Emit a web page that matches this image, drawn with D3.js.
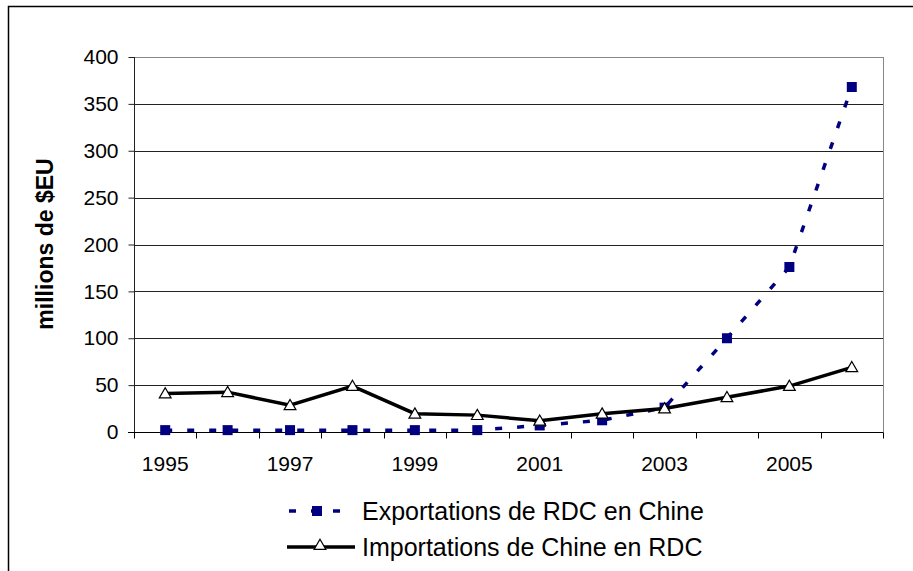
<!DOCTYPE html>
<html><head><meta charset="utf-8">
<script src="https://cdn.jsdelivr.net/npm/d3@7"></script>
<style>body{margin:0;background:#fff;}svg{display:block;font-family:"Liberation Sans",Arial,sans-serif;}</style>
</head><body>
<svg id="c" width="913" height="571"></svg>
<script>
const years = [1995,1996,1997,1998,1999,2000,2001,2002,2003,2004,2005,2006];
const xLabels = ["1995","1997","1999","2001","2003","2005"];
const exportsRDC = [2,2,2,2,2,2,7,12.5,26,100,176,368];
const importsChine = [41,42.5,28.5,49,19.5,18,12,19.5,25,37,49,69];
const yTicks = [0,50,100,150,200,250,300,350,400];
const seriesNames = ["Exportations de RDC en Chine","Importations de Chine en RDC"];

const svg = d3.select("#c");
const L = 134, R = 883, T = 57, B = 432;
// outer frame
svg.append("path").attr("d","M8.5,571 L8.5,6.5 L913,6.5").attr("fill","none").attr("stroke","#000").attr("stroke-width",1.5);

const x = d3.scaleBand().domain(years).range([L,R]).paddingInner(0).paddingOuter(0);
const y = d3.scaleLinear().domain([0,400]).range([B,T]);

// gridlines
svg.append("g").selectAll("line").data(yTicks.filter(d=>d>0)).join("line")
  .attr("x1",L).attr("x2",R).attr("y1",d=>Math.round(y(d))+0.5).attr("y2",d=>Math.round(y(d))+0.5)
  .attr("stroke",d=>d===400?"#888":"#222").attr("stroke-width",1);
// right border
svg.append("line").attr("x1",R+0.5).attr("x2",R+0.5).attr("y1",T).attr("y2",B).attr("stroke","#888");

// y axis
const ya = svg.append("g").attr("transform",`translate(${L+0.5},0)`)
  .call(d3.axisLeft(y).tickValues(yTicks).tickSize(6).tickPadding(10).tickFormat(d3.format("d")));
ya.select(".domain").attr("stroke","#222").attr("d",`M0,${T}V${B+0.5}`);
ya.selectAll(".tick line").attr("stroke","#222");
ya.selectAll("text").attr("font-size",21).attr("fill","#000").attr("font-family","Liberation Sans, Arial, sans-serif");

// x axis: ticks at band boundaries
const xa = svg.append("g").attr("transform",`translate(0,${B+0.5})`);
xa.append("line").attr("x1",L-6).attr("x2",R+0.5).attr("stroke","#000").attr("stroke-width",1.2);
const bounds = years.map(d=>x(d)).concat([R]);
xa.selectAll("line.t").data(bounds).join("line").attr("class","t")
  .attr("x1",d=>Math.round(d)+0.5).attr("x2",d=>Math.round(d)+0.5).attr("y1",0).attr("y2",6).attr("stroke","#000");
xa.selectAll("text").data(xLabels).join("text")
  .attr("x",d=>x(+d)+x.bandwidth()/2).attr("y",38).attr("text-anchor","middle")
  .attr("font-size",21).attr("fill","#000").text(d=>d);

// y title
svg.append("text").attr("transform","translate(53,244) rotate(-90)").attr("text-anchor","middle")
  .attr("font-size",23).attr("font-weight","bold").text("millions de $EU");

const cx = d => x(d)+x.bandwidth()/2;
const line = d3.line().x((d,i)=>cx(years[i])).y(d=>y(d));

// exports dashed navy
svg.append("path").datum(exportsRDC).attr("d",line).attr("fill","none")
  .attr("stroke","#000080").attr("stroke-width",3.5).attr("stroke-dasharray","7,15");
svg.append("g").selectAll("rect").data(exportsRDC).join("rect")
  .attr("x",(d,i)=>cx(years[i])-5).attr("y",d=>y(d)-5).attr("width",10).attr("height",10).attr("fill","#000080");

// imports solid black
svg.append("path").datum(importsChine).attr("d",line).attr("fill","none")
  .attr("stroke","#000").attr("stroke-width",3.5);
const tri = d3.symbol().type(d3.symbolTriangle).size(60);
svg.append("g").selectAll("path").data(importsChine).join("path")
  .attr("d",tri).attr("transform",(d,i)=>`translate(${cx(years[i])},${y(d)+1})`)
  .attr("fill","#fff").attr("stroke","#000").attr("stroke-width",1.2);

// legend
const lg = svg.append("g");
lg.append("line").attr("x1",289).attr("x2",352).attr("y1",511).attr("y2",511)
  .attr("stroke","#000080").attr("stroke-width",3.5).attr("stroke-dasharray","7,15").attr("stroke-dashoffset",0);
lg.append("rect").attr("x",317-5).attr("y",511-5).attr("width",10).attr("height",10).attr("fill","#000080");
lg.append("line").attr("x1",287).attr("x2",355).attr("y1",547).attr("y2",547).attr("stroke","#000").attr("stroke-width",3.5);
lg.append("path").attr("d",tri).attr("transform","translate(320,546)").attr("fill","#fff").attr("stroke","#000").attr("stroke-width",1.2);
lg.selectAll("text").data(seriesNames).join("text")
  .attr("x",362).attr("y",(d,i)=>[520,556][i]).attr("font-size",25).attr("fill","#000").text(d=>d);
</script>
</body></html>
